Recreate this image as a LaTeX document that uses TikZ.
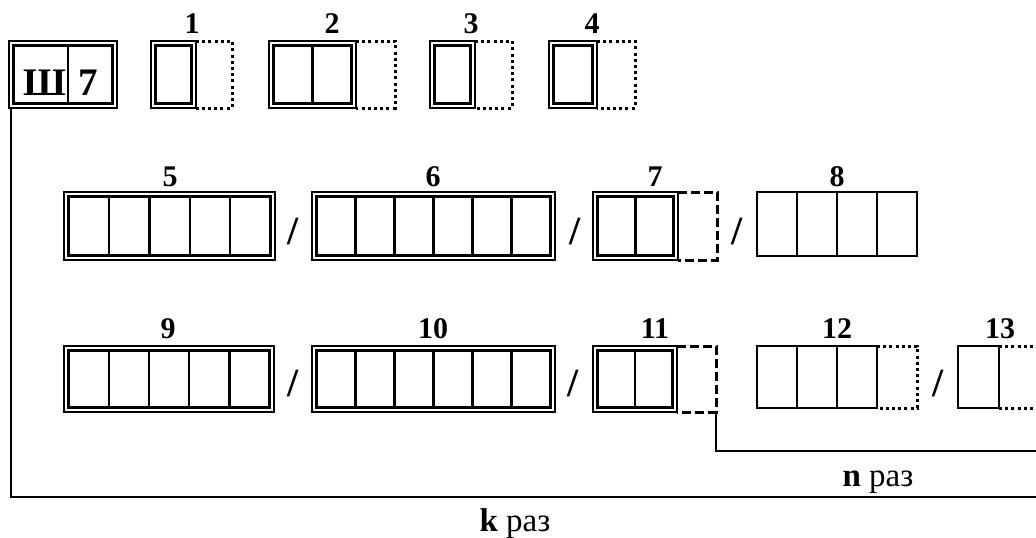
\documentclass[tikz,border=0pt]{standalone}
\usepackage{fontspec}
\setmainfont{Liberation Serif}
\tikzset{
  dbl/.style={draw, line width=1.6pt, inner sep=0pt, outer sep=0pt},
  sgl/.style={draw, line width=2.4pt, inner sep=0pt, outer sep=0pt},
  inln/.style={line width=2.4pt},
  divln/.style={line width=2.4pt},
  dotln/.style={line width=3pt, dash pattern=on 3pt off 3.2pt},
  dashln/.style={line width=3pt, dash pattern=on 9pt off 4pt},
  loopln/.style={line width=2.4pt},
  lab/.style={font=\fontsize{30}{31}\selectfont\bfseries, anchor=base, inner sep=0pt},
  slash/.style={font=\fontsize{40}{40}\selectfont\bfseries, anchor=base, inner sep=0pt},
  big/.style={font=\fontsize{39}{40}\selectfont\bfseries, anchor=base, inner sep=0pt},
  times/.style={font=\fontsize{33}{34}\selectfont, anchor=base, inner sep=0pt}
}
% name, cx, cy, w, h, cells
\newcommand{\dblbox}[6]{%
  \node[dbl, minimum width=#4pt, minimum height=#5pt] (#1) at (#2,#3) {};
  \draw[inln] ([shift={(4.5pt,-4.5pt)}]#1.north west) rectangle ([shift={(-4.5pt,4.5pt)}]#1.south east);
  \ifnum#6>1
    \foreach \k in {2,...,#6}{
      \draw[divln] ({#2-#4/2+4.5+(#4-9)*(\k-1)/#6},{#3-#5/2+4.5}) -- ++(0,{#5-9});
    }
  \fi
}
\newcommand{\sglbox}[6]{%
  \node[sgl, minimum width=#4pt, minimum height=#5pt] (#1) at (#2,#3) {};
  \ifnum#6>1
    \foreach \k in {2,...,#6}{
      \draw[divln] ({#2-#4/2+(#4)*(\k-1)/#6},{#3-#5/2}) -- ++(0,#5);
    }
  \fi
}
\begin{document}
\begin{tikzpicture}[x=1pt,y=-1pt]
\useasboundingbox (0,0) rectangle (1036,538);

% Row 1
\dblbox{sh}{63}{74.5}{108}{67}{1}
\draw[divln] (68,45.5) -- (68,103.5);
\node[big] (shT) at (44.5,95) {Ш};
\node[big] (sevT) at (88,95) {7};

\dblbox{b1}{173.5}{74.5}{45}{67}{1}
\draw[dotln] (b1.north east) -- ++(36,0) |- (b1.south east);
\dblbox{b2}{312.5}{74.5}{87}{67}{2}
\draw[dotln] (b2.north east) -- ++(39,0) |- (b2.south east);
\dblbox{b3}{452.5}{74.5}{45}{67}{1}
\draw[dotln] (b3.north east) -- ++(37,0) |- (b3.south east);
\dblbox{b4}{573}{74.5}{48}{67}{1}
\draw[dotln] (b4.north east) -- ++(38,0) |- (b4.south east);

\node[lab] (l1) at (192,33) {1};
\node[lab] (l2) at (332,33) {2};
\node[lab] (l3) at (471,33) {3};
\node[lab] (l4) at (592,33) {4};

% Row 2
\dblbox{b5}{169.5}{226}{211}{68}{5}
\dblbox{b6}{433.5}{226}{243}{68}{6}
\dblbox{b7}{635.5}{226}{85}{68}{2}
\coordinate (e7) at ([xshift=39pt]b7.south east);
\draw[dashln] (b7.north east) -| (e7) -- (b7.south east);
\sglbox{b8}{837}{224}{160}{64}{4}

\node[slash] (s21) at (293,244) {/};
\node[slash] (s22) at (575,244) {/};
\node[slash] (s23) at (737,244) {/};

\node[lab] (l5) at (170,186) {5};
\node[lab] (l6) at (433,186) {6};
\node[lab] (l7) at (655,186) {7};
\node[lab] (l8) at (837,186) {8};

% Row 3
\dblbox{b9}{169}{379}{210}{66}{5}
\dblbox{b10}{433.5}{379}{243}{66}{6}
\dblbox{b11}{635}{379}{84}{66}{2}
\coordinate (e11) at ([xshift=39pt]b11.south east);
\draw[dashln] (b11.north east) -| (e11) -- (b11.south east);
\sglbox{b12}{817}{377}{120}{62}{3}
\draw[dotln] (b12.north east) -- ++(40,0) |- (b12.south east);
\sglbox{b13}{978.5}{377}{41}{62}{1}
\coordinate (e13t) at (1036,346);
\coordinate (e13b) at (1036,408);
\draw[dotln] (b13.north east) -- (e13t);
\draw[dotln] (b13.south east) -- (e13b);

\node[slash] (s31) at (293,396) {/};
\node[slash] (s32) at (573,396) {/};
\node[slash] (s33) at (938,396) {/};

\node[lab] (l9) at (168,338) {9};
\node[lab] (l10) at (433,338) {10};
\node[lab] (l11) at (655,338) {11};
\node[lab] (l12) at (837,338) {12};
\node[lab] (l13) at (1000,338) {13};

% Loops
\coordinate (nend) at (1036,451);
\coordinate (kend) at (1036,497);
\draw[loopln] (e11) |- (nend);
\draw[loopln] ([xshift=2pt]sh.south west) |- (kend);

\node[times] (ntext) at (878,486) {\textbf{n} раз};
\node[times] (ktext) at (515,531) {\textbf{k} раз};
\end{tikzpicture}
\end{document}
